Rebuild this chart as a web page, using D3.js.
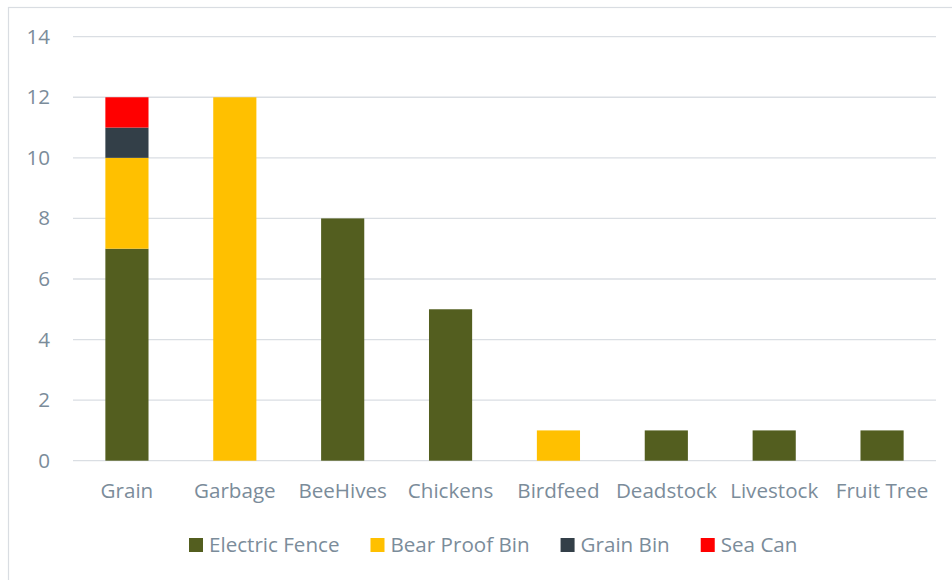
<!DOCTYPE html>
<html>
<head>
<meta charset="utf-8">
<script src="https://cdn.jsdelivr.net/npm/d3@7"></script>
<style>
  html, body { margin: 0; padding: 0; background: #ffffff; }
  svg { display: block; }
  text { font-family: "Open Sans", Lato, sans-serif; fill: #7b8c9a; font-size: 20.6px; }
</style>
</head>
<body>
<svg id="chart" width="952" height="580"></svg>
<script>
// Conflict attractants and the mitigation used for each
const categories = ["Grain", "Garbage", "BeeHives", "Chickens", "Birdfeed", "Deadstock", "Livestock", "Fruit Tree"];
const seriesNames = ["Electric Fence", "Bear Proof Bin", "Grain Bin", "Sea Can"];
const electricFence = [7, 0, 8, 5, 0, 1, 1, 1];
const bearProofBin  = [3, 12, 0, 0, 1, 0, 0, 0];
const grainBin      = [1, 0, 0, 0, 0, 0, 0, 0];
const seaCan        = [1, 0, 0, 0, 0, 0, 0, 0];
const yTicks = [0, 2, 4, 6, 8, 10, 12, 14];
const colors = ["#535e1f", "#ffc000", "#333f48", "#ff0000"];

const seriesValues = [electricFence, bearProofBin, grainBin, seaCan];
const rows = categories.map((c, i) => {
  const r = { category: c };
  seriesNames.forEach((s, k) => { r[s] = seriesValues[k][i]; });
  return r;
});

const svg = d3.select("#chart");

// chart frame
svg.append("rect")
  .attr("x", 8.5).attr("y", 7.5)
  .attr("width", 960).attr("height", 600)
  .attr("fill", "none").attr("stroke", "#d9dde2").attr("stroke-width", 1.2);

const x = d3.scaleBand().domain(categories).range([73, 936]).paddingInner(0.6).paddingOuter(0.3);
const y = d3.scaleLinear().domain([0, 14]).range([460.7, 36.7]);

// horizontal gridlines
svg.append("g").selectAll("line").data(yTicks).join("line")
  .attr("x1", 73).attr("x2", 936)
  .attr("y1", d => y(d)).attr("y2", d => y(d))
  .attr("stroke", "#dadee3").attr("stroke-width", 1.3);

// y tick labels
svg.append("g").selectAll("text").data(yTicks).join("text")
  .attr("x", 50).attr("y", d => y(d) + 7)
  .attr("text-anchor", "end")
  .text(d => d);

// stacked bars
const stack = d3.stack().keys(seriesNames)(rows);
svg.append("g").selectAll("g").data(stack).join("g")
  .attr("fill", (d, i) => colors[i])
  .selectAll("rect").data(d => d.filter(p => p[1] - p[0] > 0)).join("rect")
  .attr("x", d => x(d.data.category))
  .attr("width", x.bandwidth())
  .attr("y", d => y(d[1]))
  .attr("height", d => y(d[0]) - y(d[1]));

// category labels
svg.append("g").selectAll("text").data(categories).join("text")
  .attr("x", d => x(d) + x.bandwidth() / 2)
  .attr("y", 498)
  .attr("text-anchor", "middle")
  .text(d => d);

// legend
const legend = svg.append("g");
let lx = 189;
seriesNames.forEach((s, i) => {
  legend.append("rect").attr("x", lx).attr("y", 538).attr("width", 14).attr("height", 14).attr("fill", colors[i]);
  const t = legend.append("text").attr("x", lx + 20).attr("y", 552).text(s);
  lx += 20 + t.node().getComputedTextLength() + 31;
});
</script>
</body>
</html>
